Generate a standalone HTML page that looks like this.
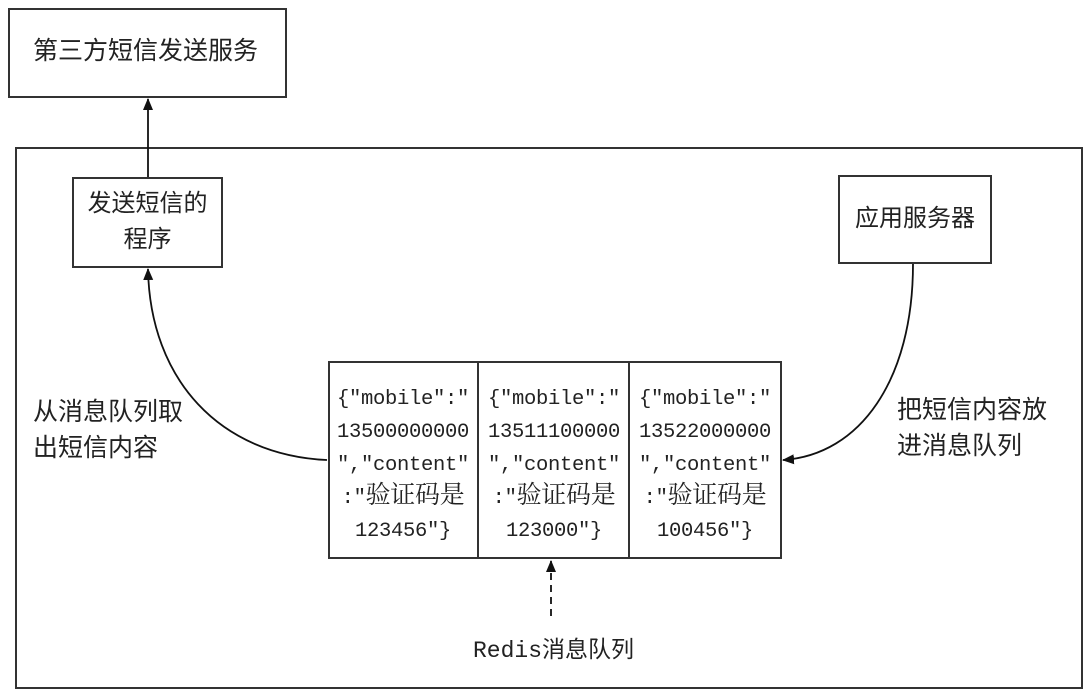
<!DOCTYPE html>
<html><head><meta charset="utf-8"><style>
body{margin:0;width:1089px;height:695px;background:#fff;position:relative;overflow:hidden;font-family:"Liberation Sans","Noto Sans CJK SC",sans-serif;color:#222}
.b{position:absolute;border:2px solid #333;box-sizing:border-box;background:#fff}
.t{position:absolute;font-size:24px;line-height:36px;white-space:nowrap}
.q{position:absolute;top:383px;width:150px;text-align:center;font-family:"Liberation Mono","Noto Serif CJK SC",monospace;font-size:20.5px;line-height:33px;letter-spacing:-0.3px}
.q span{font-size:25px;font-family:"Noto Serif CJK SC",serif;line-height:0}
</style></head><body>
<div class="b" style="left:8px;top:8px;width:279px;height:90px"></div>
<div class="t" style="left:33px;top:33px;font-size:25px">第三方短信发送服务</div>
<div class="b" style="left:15px;top:147px;width:1068px;height:542px"></div>
<div class="b" style="left:72px;top:177px;width:151px;height:91px"></div>
<div class="t" style="left:72px;top:186px;width:151px;text-align:center">发送短信的<br>程序</div>
<div class="b" style="left:838px;top:175px;width:154px;height:89px"></div>
<div class="t" style="left:838px;top:201px;width:154px;text-align:center">应用服务器</div>
<div class="b" style="left:328px;top:361px;width:454px;height:198px"></div>
<div style="position:absolute;left:477px;top:361px;width:2px;height:198px;background:#333"></div>
<div style="position:absolute;left:628px;top:361px;width:2px;height:198px;background:#333"></div>
<div class="q" style="left:328px">{"mobile":"<br>13500000000<br>","content"<br>:"<span>验证码是</span><br>123456"}</div>
<div class="q" style="left:479px">{"mobile":"<br>13511100000<br>","content"<br>:"<span>验证码是</span><br>123000"}</div>
<div class="q" style="left:630px">{"mobile":"<br>13522000000<br>","content"<br>:"<span>验证码是</span><br>100456"}</div>
<div class="t" style="left:33px;top:394px;font-size:25px">从消息队列取<br>出短信内容</div>
<div class="t" style="left:897px;top:392px;font-size:25px">把短信内容放<br>进消息队列</div>
<div class="t" style="left:473px;top:633px;font-size:23px;font-family:'Liberation Mono','Noto Sans CJK SC',monospace">Redis消息队列</div>
<svg width="1089" height="695" style="position:absolute;left:0;top:0">
<defs><marker id="a" markerWidth="12" markerHeight="12" refX="11" refY="6" orient="auto" markerUnits="userSpaceOnUse"><path d="M0,1 L12,6 L0,11z" fill="#111"/></marker></defs>
<g stroke="#111" stroke-width="1.8" fill="none">
<line x1="148" y1="177" x2="148" y2="99" marker-end="url(#a)"/>
<path d="M327,460 C220,455 150,380 148,269" marker-end="url(#a)"/>
<path d="M913,264 C913,380 860,455 783,460" marker-end="url(#a)"/>
<line x1="551" y1="616" x2="551" y2="561" stroke-dasharray="7,5" marker-end="url(#a)"/>
</g></svg>
</body></html>
